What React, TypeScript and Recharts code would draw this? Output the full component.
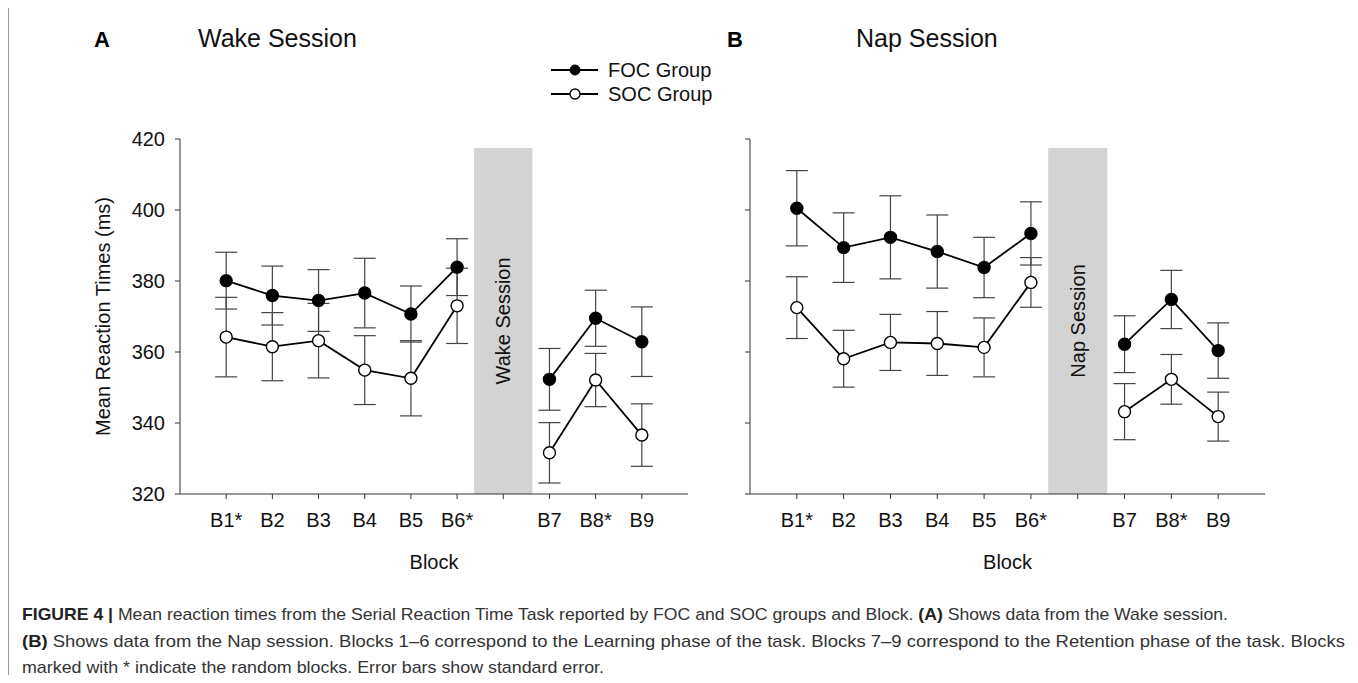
import React from 'react'
import { LineChart, Line, XAxis, YAxis, ErrorBar, ReferenceArea } from 'recharts'

// x-axis: 9 blocks plus an empty slot (index 6) for the session break
const tickLabels = ['B1*', 'B2', 'B3', 'B4', 'B5', 'B6*', '', 'B7', 'B8*', 'B9']
const blockPos = [0, 1, 2, 3, 4, 5, 7, 8, 9]
const xTicks = [0, 1, 2, 3, 4, 5, 6, 7, 8, 9]
const yTicks = [320, 340, 360, 380, 400, 420]

// Wake session (ms)
const wakeFoc = [380.1, 375.9, 374.5, 376.6, 370.7, 383.9, 352.3, 369.5, 362.9]
const wakeFocSe = [8.0, 8.3, 8.7, 9.8, 7.9, 8.0, 8.7, 7.9, 9.8]
const wakeSoc = [364.2, 361.5, 363.2, 354.9, 352.6, 373.0, 331.6, 352.1, 336.6]
const wakeSocSe = [11.2, 9.6, 10.5, 9.7, 10.6, 10.6, 8.5, 7.5, 8.8]

// Nap session (ms)
const napFoc = [400.5, 389.4, 392.3, 388.3, 383.8, 393.4, 362.2, 374.8, 360.4]
const napFocSe = [10.6, 9.8, 11.7, 10.3, 8.5, 8.9, 8.0, 8.2, 7.8]
const napSoc = [372.5, 358.1, 362.7, 362.4, 361.3, 379.6, 343.2, 352.3, 341.8]
const napSocSe = [8.7, 8.0, 7.9, 9.0, 8.3, 7.0, 7.9, 7.0, 6.9]

const FONT = "'Liberation Sans', Arial, Helvetica, sans-serif"

const rows = (means: number[], ses: number[], from: number, to: number) =>
  blockPos.slice(from, to).map((x, i) => ({ x, mean: means[from + i], se: ses[from + i] }))

type PanelProps = {
  left: number
  width: number
  marginLeft: number
  yWidth: number
  showYLabels: boolean
  band: string
  foc: number[]
  focSe: number[]
  soc: number[]
  socSe: number[]
}

const Panel: React.FC<PanelProps> = (p) => {
  // learning (B1-B6) and retention (B7-B9) drawn as separate segments
  const series = [
    { key: 'soc-l', data: rows(p.soc, p.socSe, 0, 6), fill: '#fff' },
    { key: 'soc-r', data: rows(p.soc, p.socSe, 6, 9), fill: '#fff' },
    { key: 'foc-l', data: rows(p.foc, p.focSe, 0, 6), fill: '#000' },
    { key: 'foc-r', data: rows(p.foc, p.focSe, 6, 9), fill: '#000' },
  ]
  return (
    <div style={{ position: 'absolute', left: p.left, top: 100 }}>
      <LineChart
        width={p.width}
        height={490}
        margin={{ top: 39, right: 12, left: p.marginLeft, bottom: 56 }}
      >
        <XAxis
          type="number"
          dataKey="x"
          domain={[-1, 10]}
          ticks={xTicks}
          interval={0}
          tickFormatter={(v: number) => tickLabels[v] ?? ''}
          tickSize={5}
          tickMargin={14}
          height={40}
          stroke="#333"
          tick={{ fontSize: 20, fill: '#111' }}
          label={{ value: 'Block', position: 'bottom', offset: 21, fontSize: 20, fill: '#111' }}
        />
        <YAxis
          type="number"
          domain={[320, 420]}
          ticks={yTicks}
          width={p.yWidth}
          tickSize={5}
          tickMargin={10}
          stroke="#333"
          tick={{ fontSize: 20, fill: '#111' }}
          tickFormatter={(v: number) => (p.showYLabels ? String(v) : '')}
          label={
            p.showYLabels
              ? {
                  value: 'Mean Reaction Times (ms)',
                  angle: -90,
                  position: 'insideLeft',
                  offset: 3,
                  fontSize: 20,
                  fill: '#111',
                  style: { textAnchor: 'middle' },
                }
              : undefined
          }
        />
        <ReferenceArea
          x1={5.37}
          x2={6.63}
          y1={320}
          y2={417.5}
          fill="#d3d3d3"
          fillOpacity={1}
          stroke="none"
          label={{ value: p.band, angle: -90, position: 'center', fontSize: 20, fill: '#111' }}
        />
        {series.map((s) => (
          <Line
            key={s.key}
            data={s.data}
            dataKey="mean"
            type="linear"
            stroke="#000"
            strokeWidth={1.8}
            isAnimationActive={false}
            activeDot={false}
            dot={{ r: 6, fill: s.fill, stroke: '#000', strokeWidth: 1.4 }}
          >
            <ErrorBar dataKey="se" direction="y" width={11} stroke="#444" strokeWidth={1.2} />
          </Line>
        ))}
      </LineChart>
    </div>
  )
}

export default function App() {
  return (
    <div
      style={{
        position: 'relative',
        margin: -8,
        width: 1358,
        height: 683,
        overflow: 'hidden',
        background: '#fff',
        fontFamily: FONT,
      }}
    >
      <Panel left={0} width={700} marginLeft={100} yWidth={80} showYLabels band="Wake Session"
        foc={wakeFoc} focSe={wakeFocSe} soc={wakeSoc} socSe={wakeSocSe} />
      <Panel left={690} width={587} marginLeft={0} yWidth={60} showYLabels={false} band="Nap Session"
        foc={napFoc} focSe={napFocSe} soc={napSoc} socSe={napSocSe} />

      <svg width={1358} height={683} style={{ position: 'absolute', left: 0, top: 0, pointerEvents: 'none' }}>
        {/* frame */}
        <line x1={8.5} y1={0} x2={8.5} y2={683} stroke="#999" />
        <line x1={1355.5} y1={0} x2={1355.5} y2={683} stroke="#999" />

        {/* panel titles */}
        <text x={94} y={47} fontSize={22} fontWeight="bold" fill="#000">A</text>
        <text x={198} y={47} fontSize={25} fill="#111">Wake Session</text>
        <text x={727} y={47} fontSize={22} fontWeight="bold" fill="#000">B</text>
        <text x={856} y={47} fontSize={25} fill="#111">Nap Session</text>

        {/* legend */}
        <line x1={551} y1={70} x2={598} y2={70} stroke="#000" strokeWidth={1.8} />
        <circle cx={575} cy={70} r={5} fill="#000" stroke="#000" />
        <text x={608} y={70} fontSize={20} dominantBaseline="central" fill="#111">FOC Group</text>
        <line x1={551} y1={94} x2={598} y2={94} stroke="#000" strokeWidth={1.8} />
        <circle cx={575} cy={94} r={5} fill="#fff" stroke="#000" strokeWidth={1.3} />
        <text x={608} y={94} fontSize={20} dominantBaseline="central" fill="#111">SOC Group</text>

        {/* caption */}
        <g fontFamily="'Liberation Sans', Arial, sans-serif" fontSize={17} fill="#333">
          <text x={22} y={620} textLength={1206} lengthAdjust="spacingAndGlyphs">
            <tspan fontWeight="bold" fill="#222">FIGURE 4 |</tspan>
            <tspan> Mean reaction times from the Serial Reaction Time Task reported by FOC and SOC groups and Block. </tspan>
            <tspan fontWeight="bold" fill="#222">(A)</tspan>
            <tspan> Shows data from the Wake session.</tspan>
          </text>
          <text x={22} y={647} textLength={1323} lengthAdjust="spacingAndGlyphs">
            <tspan fontWeight="bold" fill="#222">(B)</tspan>
            <tspan> Shows data from the Nap session. Blocks 1–6 correspond to the Learning phase of the task. Blocks 7–9 correspond to the Retention phase of the task. Blocks</tspan>
          </text>
          <text x={22} y={673} textLength={582} lengthAdjust="spacingAndGlyphs">
            marked with * indicate the random blocks. Error bars show standard error.
          </text>
        </g>
      </svg>
    </div>
  )
}
